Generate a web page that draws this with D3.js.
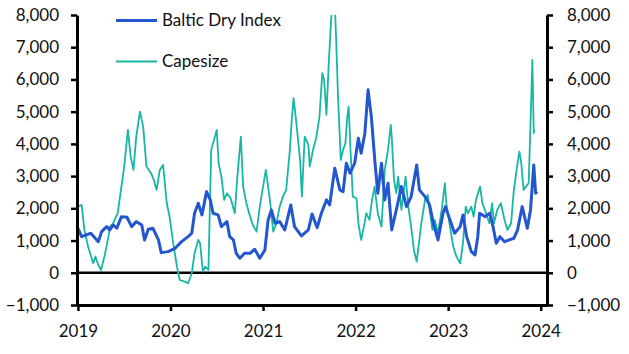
<!DOCTYPE html>
<html><head><meta charset="utf-8">
<script src="https://cdn.jsdelivr.net/npm/d3@7"></script>
<style>html,body{margin:0;padding:0;background:#fff;}svg{display:block;font-family:Lato,"Open Sans",sans-serif;}</style>
</head><body>
<svg id="chart" width="629" height="354"></svg>
<script>
const yTicks = [-1000,0,1000,2000,3000,4000,5000,6000,7000,8000];
const xTicks = [2019,2020,2021,2022,2023,2024];
const seriesNames = ["Baltic Dry Index","Capesize"];

const bdiT = [2019.00,2019.04,2019.09,2019.14,2019.22,2019.256,2019.31,2019.345,2019.38,2019.42,2019.47,2019.53,2019.58,2019.63,2019.69,2019.72,2019.76,2019.81,2019.87,2019.90,2019.975,2020.05,2020.12,2020.19,2020.23,2020.26,2020.30,2020.34,2020.39,2020.43,2020.46,2020.515,2020.55,2020.61,2020.64,2020.68,2020.71,2020.75,2020.80,2020.86,2020.91,2020.965,2021.02,2021.055,2021.09,2021.13,2021.18,2021.235,2021.30,2021.34,2021.415,2021.49,2021.53,2021.585,2021.63,2021.685,2021.72,2021.775,2021.83,2021.865,2021.90,2021.94,2021.99,2022.03,2022.06,2022.10,2022.135,2022.17,2022.21,2022.24,2022.28,2022.315,2022.35,2022.39,2022.44,2022.495,2022.55,2022.60,2022.66,2022.69,2022.75,2022.80,2022.84,2022.89,2022.945,2022.97,2023.02,2023.07,2023.13,2023.16,2023.20,2023.25,2023.29,2023.32,2023.34,2023.40,2023.45,2023.485,2023.52,2023.56,2023.61,2023.66,2023.71,2023.75,2023.80,2023.855,2023.89,2023.925,2023.945,2023.96];
const bdiV = [1382,1122,1174,1226,966,1277,1432,1329,1484,1382,1742,1723,1432,1587,1484,1019,1350,1382,1019,625,656,760,966,1121,1227,1848,2158,1795,2519,2261,1848,1795,1432,1587,1121,1019,605,450,605,605,730,450,708,1640,1950,1537,1587,1329,2106,1432,1143,1329,1826,1400,1848,2261,2106,3245,2571,2519,3400,3090,3400,4177,3711,4332,5677,4848,3400,2469,3400,2261,2779,1329,1950,2674,2053,2363,3348,2571,2363,2100,1537,1019,1848,2053,1640,1227,1432,1795,1121,655,553,1121,1848,1743,1848,1432,916,1121,966,1019,1071,1329,2053,1382,1950,3348,2469,2519];

const capeT = [2019.00,2019.04,2019.07,2019.11,2019.165,2019.19,2019.22,2019.25,2019.29,2019.33,2019.345,2019.38,2019.43,2019.46,2019.50,2019.54,2019.57,2019.60,2019.63,2019.67,2019.705,2019.74,2019.79,2019.82,2019.85,2019.885,2019.92,2019.96,2019.99,2020.03,2020.07,2020.10,2020.155,2020.19,2020.23,2020.26,2020.30,2020.32,2020.35,2020.375,2020.41,2020.44,2020.47,2020.50,2020.52,2020.55,2020.58,2020.61,2020.65,2020.695,2020.72,2020.76,2020.785,2020.82,2020.86,2020.89,2020.93,2020.965,2021.03,2021.055,2021.08,2021.11,2021.145,2021.18,2021.215,2021.25,2021.29,2021.31,2021.33,2021.36,2021.40,2021.42,2021.45,2021.49,2021.505,2021.54,2021.575,2021.61,2021.64,2021.66,2021.685,2021.71,2021.73,2021.745,2021.775,2021.79,2021.81,2021.84,2021.865,2021.89,2021.91,2021.925,2021.945,2021.97,2022.01,2022.03,2022.06,2022.09,2022.115,2022.15,2022.175,2022.205,2022.24,2022.28,2022.315,2022.35,2022.38,2022.39,2022.415,2022.44,2022.46,2022.495,2022.54,2022.57,2022.60,2022.63,2022.66,2022.68,2022.71,2022.75,2022.78,2022.80,2022.83,2022.855,2022.89,2022.93,2022.965,2022.98,2023.02,2023.055,2023.09,2023.13,2023.16,2023.19,2023.215,2023.25,2023.275,2023.30,2023.345,2023.37,2023.41,2023.445,2023.475,2023.495,2023.53,2023.57,2023.61,2023.64,2023.68,2023.71,2023.75,2023.77,2023.79,2023.815,2023.84,2023.87,2023.89,2023.91,2023.925,2023.93];
const capeV = [2053,2106,1329,811,295,500,242,87,553,1121,1432,1537,1848,2469,3295,4435,3606,3193,4227,5003,4537,3295,3090,2882,2571,3193,3348,2158,1743,916,190,-224,-276,-326,-16,605,1019,916,34,190,87,3814,4124,4435,3400,2984,2261,2469,2313,1848,2882,4227,2674,2158,1743,1484,1277,2053,3193,2674,2106,1277,1537,2053,2363,2571,3814,4745,5419,4643,3503,2363,4227,3969,3295,3814,4200,4848,6196,5988,4901,6506,7540,8300,8400,7230,5469,3503,3814,4021,4848,5158,3814,2363,2313,1537,1019,1432,1848,1640,2208,2674,1848,1432,3193,3814,4590,4227,2882,2469,2984,1950,2984,2053,1432,708,345,811,1537,2261,2416,1950,1329,1640,1227,1950,2779,2158,1432,811,500,295,916,2053,1848,2053,1743,2261,2674,2158,1848,1537,2158,1537,1950,2158,1640,1329,1537,2571,3400,3761,3400,2571,2674,2779,4643,6609,4332,4435];

const svg = d3.select("#chart");
const x = d3.scaleLinear().domain([2018.99, 2024.068]).range([77, 547]);
const y = d3.scaleLinear().domain([-1000, 8000]).range([305, 15]);
const fmt = d3.format(",");
const blue = "#2356cf", teal = "#17b6a5";

svg.append("defs").append("clipPath").attr("id","clip")
  .append("rect").attr("x",77).attr("y",15).attr("width",470).attr("height",290);

// zero line
svg.append("line").attr("x1",x.range()[0]).attr("x2",x.range()[1])
  .attr("y1",y(0)).attr("y2",y(0)).attr("stroke","#000").attr("stroke-width",2.5);

const line = d3.line().x(d=>x(d[0])).y(d=>y(d[1]));
const g = svg.append("g").attr("clip-path","url(#clip)");
g.append("path").datum(capeT.map((t,i)=>[t,capeV[i]])).attr("d",line)
  .attr("fill","none").attr("stroke",teal).attr("stroke-width",1.8).attr("stroke-linejoin","round");
g.append("path").datum(bdiT.map((t,i)=>[t,bdiV[i]])).attr("d",line)
  .attr("fill","none").attr("stroke",blue).attr("stroke-width",3).attr("stroke-linejoin","round");

function styleAxis(sel){
  sel.select(".domain").attr("stroke","#000").attr("stroke-width",3);
  sel.selectAll(".tick line").attr("stroke","#000").attr("stroke-width",2.5);
  sel.selectAll(".tick text").attr("fill","#111").style("font-size","17px").style("font-family","Lato, 'Open Sans', sans-serif");
}
const ax = svg.append("g").attr("transform",`translate(0,${y(-1000)})`)
  .call(d3.axisBottom(x).tickValues(xTicks).tickFormat(d3.format("d")).tickSize(6).tickSizeOuter(0).tickPadding(14));
styleAxis(ax);
const al = svg.append("g").attr("transform",`translate(${x.range()[0]},0)`)
  .call(d3.axisLeft(y).tickValues(yTicks).tickFormat(fmt).tickSize(6).tickSizeOuter(0).tickPadding(12));
styleAxis(al);
const ar = svg.append("g").attr("transform",`translate(${x.range()[1]},0)`)
  .call(d3.axisRight(y).tickValues(yTicks).tickFormat(fmt).tickSize(6).tickSizeOuter(0).tickPadding(14));
styleAxis(ar);

// legend
const leg = [{name:seriesNames[0], c:blue, w:3, yy:20.5},{name:seriesNames[1], c:teal, w:1.8, yy:61.5}];
leg.forEach(l=>{
  svg.append("line").attr("x1",116).attr("x2",157).attr("y1",l.yy).attr("y2",l.yy)
    .attr("stroke",l.c).attr("stroke-width",l.w);
  svg.append("text").attr("x",162).attr("y",l.yy).attr("dy","0.35em")
    .attr("fill","#111").style("font-size","17px").text(l.name);
});
</script>
</body></html>
